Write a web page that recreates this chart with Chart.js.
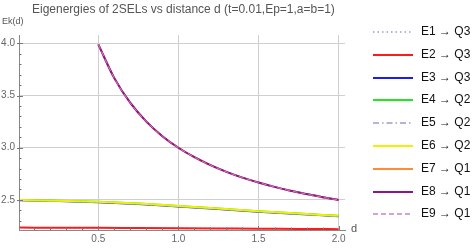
<!DOCTYPE html>
<html>
<head>
<meta charset="utf-8">
<script src="https://cdn.jsdelivr.net/npm/chart.js@4"></script>
<style>
  html, body { margin: 0; padding: 0; background: #fff; }
  #wrap { position: relative; width: 476px; height: 248px; font-family: "Liberation Sans", Arial, sans-serif; }
  #chart { position: absolute; left: 0; top: 0; }
  .txt { position: absolute; white-space: nowrap; }
  #title { left: 32px; top: 2px; font-size: 12px; color: #555; }
  #ylab { left: 2px; top: 16px; font-size: 9px; color: #555; }
  #xlab { left: 351px; top: 222px; font-size: 11px; color: #555; }
  #legend { position: absolute; left: 372px; top: 22px; }
  .item { position: absolute; left: 0; height: 20px; width: 104px; }
  .item svg { position: absolute; left: 0; top: 8px; }
  .item span { position: absolute; left: 49px; top: 2px; font-size: 12px; color: #111; }
</style>
</head>
<body>
<div id="wrap">
  <canvas id="chart" width="476" height="248"></canvas>
  <div id="title" class="txt">Eigenergies of 2SELs vs distance d (t=0.01,Ep=1,a=b=1)</div>
  <div id="ylab" class="txt">Ek(d)</div>
  <div id="xlab" class="txt">d</div>
  <div id="legend"></div>
</div>
<script>
// distances
const dLow = [0.01, 0.25, 0.5, 0.75, 1.0, 1.25, 1.5, 1.75, 2.0];
const dHigh = [0.5, 0.6, 0.7, 0.8, 0.9, 1.0, 1.1, 1.2, 1.3, 1.4, 1.5, 1.6, 1.7, 1.8, 1.9, 2.0];

// energies
const eBottom = [2.235, 2.234, 2.233, 2.231, 2.229, 2.227, 2.225, 2.222, 2.220];
const eMidA = [2.500, 2.493, 2.482, 2.465, 2.442, 2.418, 2.392, 2.370, 2.348];
const eMidB = [2.496, 2.489, 2.478, 2.461, 2.438, 2.414, 2.388, 2.366, 2.344];
const eTop = [3.990, 3.667, 3.429, 3.250, 3.111, 3.000, 2.909, 2.833, 2.769, 2.714,
              2.667, 2.625, 2.588, 2.556, 2.526, 2.500];

// tick positions (labels only on the x.0 / x.5 ones)
const xTickVals = [0.1, 0.2, 0.3, 0.4, 0.5, 0.6, 0.7, 0.8, 0.9, 1.0, 1.1, 1.2, 1.3, 1.4, 1.5, 1.6, 1.7, 1.8, 1.9, 2.0];
const yTickVals = [2.3, 2.4, 2.5, 2.6, 2.7, 2.8, 2.9, 3.0, 3.1, 3.2, 3.3, 3.4, 3.5, 3.6, 3.7, 3.8, 3.9, 4.0];

const labels = ['E1 \u2192 Q3', 'E2 \u2192 Q3', 'E3 \u2192 Q3', 'E4 \u2192 Q2', 'E5 \u2192 Q2',
                'E6 \u2192 Q2', 'E7 \u2192 Q1', 'E8 \u2192 Q1', 'E9 \u2192 Q1'];
const colors = ['#9c9cc9', '#ff1a1a', '#1a1aff', '#22e622', '#9c9cc9',
                '#f0f000', '#ff8c33', '#8c148c', '#c685c6'];
const dashes = [[1.5, 3], [], [], [], [6, 3, 1.5, 3], [], [], [], [5, 3]];
const widths = [1.3, 2, 2, 2, 1.3, 2, 2, 2, 1];
const seriesX = [dLow, dLow, dLow, dLow, dLow, dLow, dHigh, dHigh, dHigh];
const seriesY = [eBottom, eBottom, eMidB, eMidA, eMidB, eMidA, eTop, eTop, eTop];

function pts(xs, ys) {
    return xs.map((x, i) => ({ x: x, y: ys[i] }));
}

const datasets = labels.map((lab, i) => ({
    label: lab,
    data: pts(seriesX[i], seriesY[i]),
    borderColor: colors[i],
    borderDash: dashes[i],
    borderWidth: widths[i],
    pointRadius: 0,
    cubicInterpolationMode: 'monotone',
    fill: false,
    order: 9 - i
}));

const isMajor = v => Math.abs(v * 2 - Math.round(v * 2)) < 1e-6;

// little inside ticks like the original
const tickMarks = {
    id: 'tickMarks',
    afterDatasetsDraw(chart) {
        const c = chart.ctx, a = chart.chartArea;
        const xs = chart.scales.x, ys = chart.scales.y;
        c.save();
        c.strokeStyle = '#777';
        c.lineWidth = 1;
        c.beginPath();
        xs.ticks.forEach(t => {
            const px = Math.round(xs.getPixelForValue(t.value)) + 0.5;
            const len = isMajor(t.value) ? 4 : 2.5;
            c.moveTo(px, a.bottom);
            c.lineTo(px, a.bottom - len);
        });
        ys.ticks.forEach(t => {
            const py = Math.round(ys.getPixelForValue(t.value)) + 0.5;
            const len = isMajor(t.value) ? 4 : 2.5;
            c.moveTo(a.left, py);
            c.lineTo(a.left + len, py);
            if (isMajor(t.value)) { c.moveTo(a.left - 2, py); c.lineTo(a.left, py); }
        });
        c.stroke();
        c.restore();
    }
};

const chart = new Chart(document.getElementById('chart'), {
    type: 'line',
    data: { datasets: datasets },
    options: {
        responsive: false,
        animation: false,
        layout: { padding: { left: 0, top: 35, right: 131, bottom: 0 } },
        plugins: { legend: { display: false }, tooltip: { enabled: false } },
        scales: {
            x: {
                type: 'linear',
                min: 0.005,
                max: 2.04,
                afterBuildTicks(scale) { scale.ticks = xTickVals.map(v => ({ value: v })); },
                afterFit(scale) { scale.height = 18; },
                grid: {
                    drawTicks: false,
                    color: ctx => isMajor(ctx.tick.value) ? '#cfcfcf' : 'rgba(0,0,0,0)'
                },
                border: { color: '#888', width: 1 },
                ticks: {
                    padding: 3,
                    maxRotation: 0,
                    autoSkip: false,
                    color: '#666',
                    font: { family: 'Liberation Sans', size: 10 },
                    callback: v => isMajor(v) ? v.toFixed(1) : ''
                }
            },
            y: {
                type: 'linear',
                min: 2.212,
                max: 4.08,
                afterBuildTicks(scale) { scale.ticks = yTickVals.map(v => ({ value: v })); },
                afterFit(scale) { scale.width = 19; },
                grid: {
                    drawTicks: false,
                    color: ctx => isMajor(ctx.tick.value) ? '#cfcfcf' : 'rgba(0,0,0,0)'
                },
                border: { color: '#888', width: 1 },
                ticks: {
                    padding: 4,
                    autoSkip: false,
                    color: '#666',
                    font: { family: 'Liberation Sans', size: 10 },
                    callback: v => isMajor(v) ? v.toFixed(1) : ''
                }
            }
        }
    },
    plugins: [tickMarks]
});

// legend built as html
const legend = document.getElementById('legend');
labels.forEach((lab, i) => {
    const item = document.createElement('div');
    item.className = 'item';
    item.style.top = (i * 22.8) + 'px';
    const dash = dashes[i].length ? dashes[i].join(' ') : 'none';
    item.innerHTML = '<svg width="42" height="4"><line x1="1" y1="2" x2="41" y2="2" stroke="' + colors[i] +
        '" stroke-width="' + (dashes[i].length ? 1.6 : 2) + '" stroke-dasharray="' + dash + '"/></svg>' +
        '<span>' + lab + '</span>';
    legend.appendChild(item);
});
</script>
</body>
</html>
